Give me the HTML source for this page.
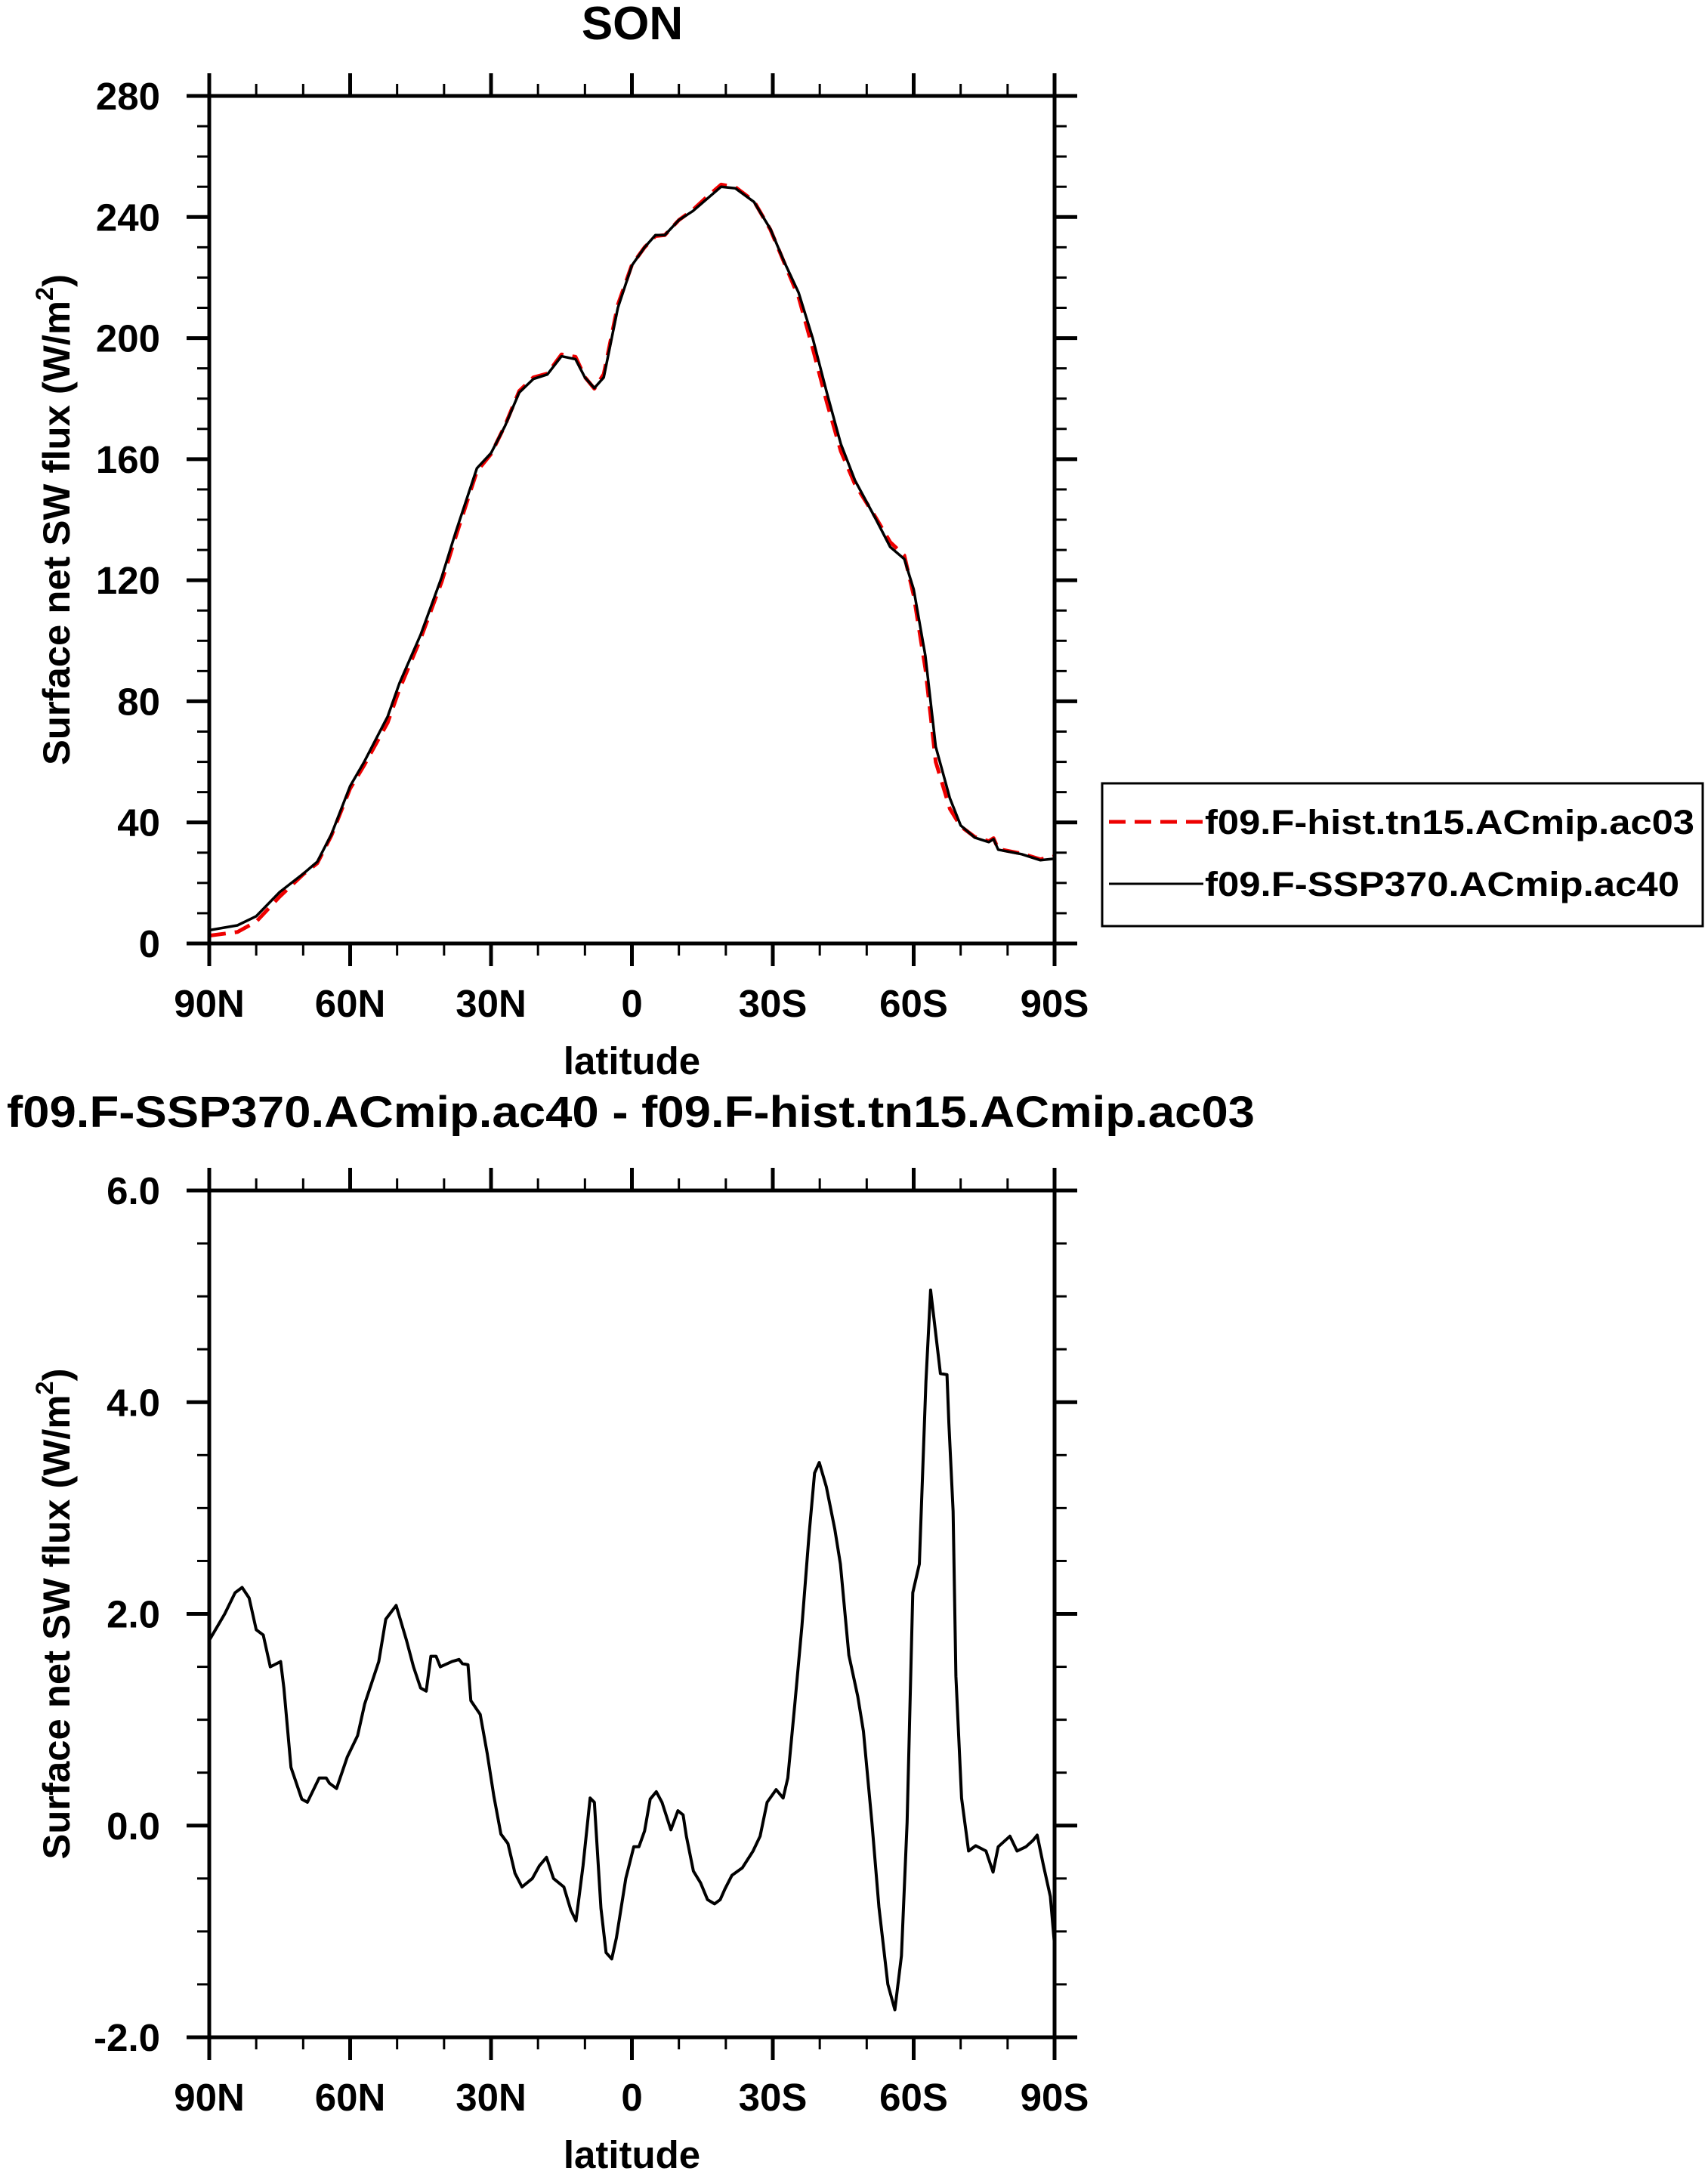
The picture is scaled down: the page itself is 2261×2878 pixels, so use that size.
<!DOCTYPE html>
<html><head><meta charset="utf-8"><style>
html,body{margin:0;padding:0;background:#fff;}
svg{display:block;font-family:"Liberation Sans",sans-serif;font-weight:bold;}
</style></head><body>
<svg id="chart" width="2261" height="2878" viewBox="0 0 2261 2878" xmlns="http://www.w3.org/2000/svg">
<rect width="2261" height="2878" fill="#fff"/>
<text x="837" y="52" font-size="62" text-anchor="middle">SON</text>
<text x="835" y="1492" font-size="58" text-anchor="middle" textLength="1652" lengthAdjust="spacingAndGlyphs">f09.F-SSP370.ACmip.ac40 - f09.F-hist.tn15.ACmip.ac03</text>
<g id="top"></g>
<g id="bottom"></g>
<g>
<rect x="1459" y="1037" width="795" height="189" fill="#fff" stroke="#000" stroke-width="3"/>
<line x1="1468" y1="1088" x2="1593" y2="1088" stroke="#e00" stroke-width="5" stroke-dasharray="22,12"/>
<text x="1595" y="1104" font-size="45" textLength="648" lengthAdjust="spacingAndGlyphs">f09.F-hist.tn15.ACmip.ac03</text>
<line x1="1468" y1="1170" x2="1593" y2="1170" stroke="#000" stroke-width="3"/>
<text x="1595" y="1186" font-size="45" textLength="628" lengthAdjust="spacingAndGlyphs">f09.F-SSP370.ACmip.ac40</text>
</g>
</svg>
<script>
// ---- data ----
const topLat = [90,84,80,75,70,67,64,60,57,52,49.5,45,40.5,37.5,33,30,27,24,21,18,15,12,10,8,6,3,0,-2.7,-5,-7,-10,-13,-16,-19,-22,-26,-29.5,-32.5,-35.5,-38.5,-41.5,-44.5,-47.5,-52,-55,-58,-60,-62.5,-64.7,-67.7,-70,-73,-76,-77,-78,-83,-87,-90];
const sspValues = [4.4,6,9,17,23,27,36,52,60,75,86,102,121,136,157,162,171,182,186.5,188,194,193,187,183.5,187,210,224,230,234,234,239,242,246,250,249.5,245,236,225,215,200,182,165,153,140,131,127,117,95,65,48,39,35,33.5,34.5,31,29.5,27.5,28];
const histValues = [2.6,3.8,7.2,15.5,22.8,26.5,35.6,51.2,58.9,73,84,100.7,119.5,134.5,156,161.7,171.2,182.5,187,188.3,194.6,193.8,187.1,183.3,188.1,211,224.2,230,233.7,234,239,242.4,246.7,250.7,249.9,245.2,235.8,224.7,213.5,196.7,178.8,162.6,151.7,140.5,132.6,128.2,115,90.8,60,44.5,38.7,35.2,33.8,34.8,31.2,29.7,27.8,28.8];
const diffLat = [90,86.7,84.5,83,81.5,80,78.5,77,74.8,74.1,72.6,70.3,69.1,66.6,65.1,64.4,62.9,60.6,58.4,56.9,53.9,52.4,50.2,48,46.5,45,43.8,42.8,41.7,40.8,38.3,36.8,36.1,34.9,34.3,32.3,30.8,29.4,27.9,26.4,24.9,23.4,21.2,19.7,18.2,16.7,14.5,13,11.9,10.4,8.9,8,6.6,5.5,4.3,3.3,1.3,-0.4,-1.5,-2.7,-3.9,-5.2,-6.4,-8.3,-9.8,-10.9,-11.6,-13.1,-14.6,-16.1,-17.6,-18.8,-19.8,-21.3,-23.5,-25.8,-27.3,-28.8,-30.7,-32.2,-33.2,-34.7,-36.2,-37.7,-38.9,-39.9,-41.4,-43.2,-44.4,-46.2,-48.1,-49.3,-51.1,-52.6,-54.5,-56,-57.4,-58.6,-59.8,-61.2,-62.6,-63.6,-65.7,-67.1,-67.5,-68.4,-69,-70.2,-71.7,-73.2,-75.4,-76.9,-78,-80.5,-82,-83.9,-85.4,-86.3,-87.6,-89.1,-90];
const diffValues = [1.75,2.0,2.2,2.25,2.15,1.85,1.8,1.5,1.55,1.3,0.55,0.25,0.22,0.45,0.45,0.4,0.35,0.65,0.85,1.15,1.55,1.95,2.08,1.75,1.5,1.3,1.27,1.6,1.6,1.5,1.55,1.57,1.53,1.52,1.18,1.05,0.68,0.28,-0.08,-0.17,-0.45,-0.58,-0.5,-0.38,-0.3,-0.5,-0.58,-0.8,-0.9,-0.38,0.26,0.22,-0.78,-1.2,-1.26,-1.06,-0.5,-0.2,-0.2,-0.05,0.25,0.32,0.22,-0.04,0.14,0.1,-0.1,-0.43,-0.54,-0.7,-0.74,-0.7,-0.6,-0.47,-0.4,-0.24,-0.1,0.22,0.34,0.26,0.45,1.15,1.88,2.74,3.33,3.43,3.2,2.8,2.47,1.61,1.22,0.89,0.03,-0.77,-1.5,-1.74,-1.23,0.03,2.2,2.47,4.19,5.06,4.27,4.26,3.8,2.97,1.41,0.26,-0.24,-0.19,-0.24,-0.44,-0.2,-0.1,-0.24,-0.2,-0.14,-0.09,-0.37,-0.67,-1.13];
const xTickVals = [90,60,30,0,-30,-60,-90];
const xTickLabels = ["90N","60N","30N","0","30S","60S","90S"];
const topYTicks = [0,40,80,120,160,200,240,280];
const topYLabels = ["0","40","80","120","160","200","240","280"];
const botYTicks = [-2,0,2,4,6];
const botYLabels = ["-2.0","0.0","2.0","4.0","6.0"];

const NS = "http://www.w3.org/2000/svg";
function mk(parent, tag, attrs){const e=document.createElementNS(NS,tag);for(const k in attrs)e.setAttribute(k,attrs[k]);parent.appendChild(e);return e;}

function panel(gid, L, R, T, B, ymin, ymax, yTicks, yLabels, yMinorStep, series, prefix){
  const g = document.getElementById(gid);
  
  
  const xs = lat => L + (90 - lat) / 180 * (R - L);
  const ys = v => B - (v - ymin) / (ymax - ymin) * (B - T);
  const clip = mk(g,'clipPath',{id:gid+'clip'});
  mk(clip,'rect',{x:L,y:T,width:R-L,height:B-T});
  series.forEach(s=>{
    const d = s.lat.map((la,i)=>(i?'L':'M')+xs(la).toFixed(1)+','+ys(s.vals[i]).toFixed(1)).join(' ');
    const p = mk(g,'path',{d:d,fill:'none',stroke:s.color,'stroke-width':s.w,'stroke-linejoin':'round','clip-path':'url(#'+gid+'clip)'});
    if(s.dash) p.setAttribute('stroke-dasharray', s.dash);
    
    
  });
  const fr = mk(g,'rect',{x:L,y:T,width:R-L,height:B-T,fill:'none',stroke:'#000','stroke-width':5});
  
  
  for(let lat=90; lat>=-90; lat-=10){
    const major = lat % 30 === 0;
    const len = major ? 30 : 16;
    const x = xs(lat);
    mk(g,'line',{x1:x,y1:B,x2:x,y2:B+len,stroke:'#000','stroke-width':major?5:3});
    mk(g,'line',{x1:x,y1:T,x2:x,y2:T-len,stroke:'#000','stroke-width':major?5:3});
  }
  xTickVals.forEach((v,i)=>{
    const t = mk(g,'text',{x:xs(v),y:B+97,'font-size':51,'text-anchor':'middle'});
    t.textContent = xTickLabels[i];
    
    
  });
  for(let v=ymin; v<=ymax+1e-9; v+=yMinorStep){
    const major = yTicks.some(t=>Math.abs(t-v)<1e-6);
    const len = major ? 30 : 16;
    const y = ys(v);
    mk(g,'line',{x1:L,y1:y,x2:L-len,y2:y,stroke:'#000','stroke-width':major?5:3});
    mk(g,'line',{x1:R,y1:y,x2:R+len,y2:y,stroke:'#000','stroke-width':major?5:3});
  }
  yTicks.forEach((v,i)=>{
    const t = mk(g,'text',{x:L-65,y:ys(v)+18,'font-size':51,'text-anchor':'end'});
    t.textContent = yLabels[i];
    
    
  });
  const xt = mk(g,'text',{x:(L+R)/2,y:B+173,'font-size':51,'text-anchor':'middle'});
  xt.textContent = 'latitude';
  
  
  const cy = (T+B)/2;
  const yt = mk(g,'text',{x:92,y:cy,'font-size':50,'text-anchor':'middle',transform:'rotate(-90 92 '+cy+')',textLength:650,lengthAdjust:'spacingAndGlyphs'});
  yt.innerHTML = 'Surface net SW flux (W/m<tspan font-size="32" dy="-22">2</tspan><tspan dy="22">)</tspan>';
  
  
}

panel('top', 277, 1396, 127, 1249, 0, 280, topYTicks, topYLabels, 10, [
  {lat:topLat, vals:histValues, color:'#e00', w:5, dash:'22,12', name:'hist-series-line'},
  {lat:topLat, vals:sspValues, color:'#000', w:3.5, name:'ssp370-series-line'}
], 'top');
panel('bottom', 277, 1396, 1576, 2697, -2, 6, botYTicks, botYLabels, 0.5, [
  {lat:diffLat, vals:diffValues, color:'#000', w:4, name:'difference-series-line'}
], 'bottom');
</script>
</body></html>
